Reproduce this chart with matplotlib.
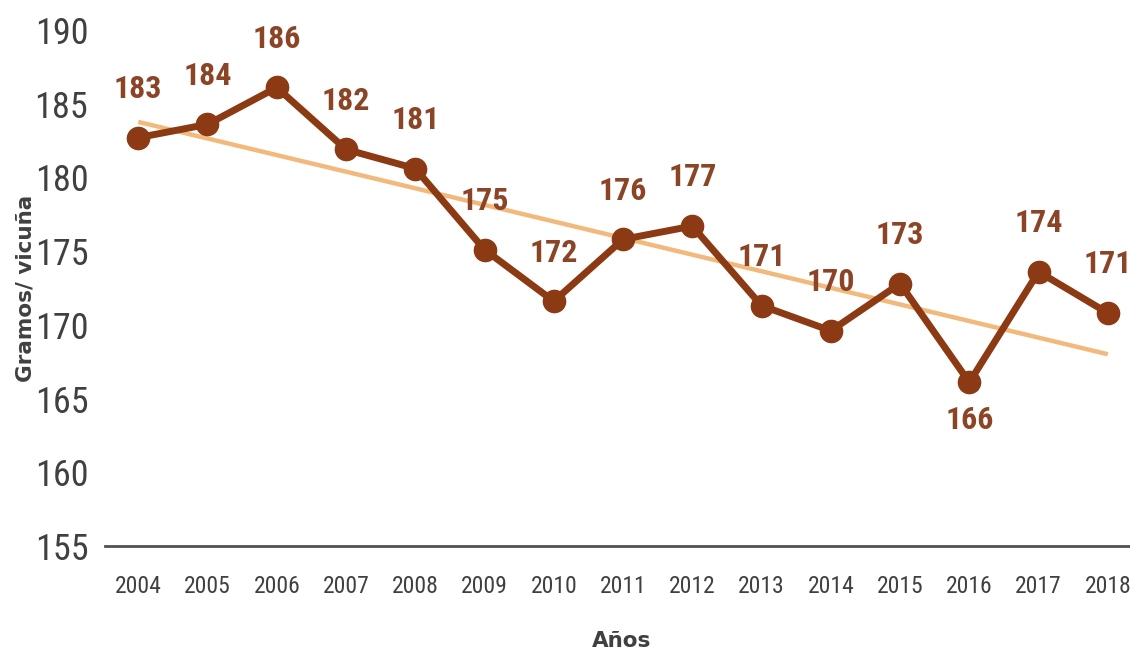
import numpy as np
import matplotlib
matplotlib.use("Agg")
import matplotlib.pyplot as plt
from matplotlib import font_manager

# Fibre yield per animal, 2004-2018
years = [2004, 2005, 2006, 2007, 2008, 2009, 2010, 2011, 2012, 2013, 2014, 2015, 2016, 2017, 2018]
gramos = [182.7, 183.6, 186.1, 181.9, 180.6, 175.1, 171.6, 175.8, 176.7, 171.3, 169.6, 172.8, 166.1, 173.6, 170.8]
y_ticks = [155, 160, 165, 170, 175, 180, 185, 190]

line_color = "#8c3a14"
trend_color = "#f2b97c"
label_color = "#8b4526"
text_color = "#404040"

narrow = ["Roboto Condensed", "DejaVu Sans"]

# bold Montserrat face for the axis titles, if a static bold file exists
bold_files = [f.fname for f in font_manager.fontManager.ttflist
              if f.name == "Montserrat" and f.style == "normal"
              and isinstance(f.weight, int) and 600 <= f.weight <= 700]
if bold_files:
    title_font = font_manager.FontProperties(fname=sorted(bold_files)[0])
else:
    title_font = font_manager.FontProperties(family="DejaVu Sans", weight="bold")

fig = plt.figure(figsize=(11.3, 6.54), dpi=100)
ax = fig.add_axes([105 / 1130, 108 / 654, 1 - 105 / 1130, 516 / 654])

# linear trend under the series
slope, intercept = np.polyfit(years, gramos, 1)
trend = np.polyval([slope, intercept], years)
ax.plot(years, trend, color=trend_color, lw=3.2, solid_capstyle="butt", zorder=2)

ax.plot(years, gramos, color=line_color, lw=5, marker="o", ms=16,
        solid_joinstyle="round", zorder=3)

for x, y in zip(years, gramos):
    below = x == 2016
    ax.annotate(f"{y:.0f}", (x, y), xytext=(0, -27 if below else 35),
                textcoords="offset points", ha="center", va="center",
                fontsize=23, fontweight="bold", color=label_color,
                family=narrow, zorder=4)

ax.set_xlim(2003.52, 2018.32)
ax.set_ylim(155, 190)
ax.set_xticks(years)
ax.set_xticklabels([str(y) for y in years])
ax.set_yticks(y_ticks)

for s in ["top", "right", "left"]:
    ax.spines[s].set_visible(False)
ax.spines["bottom"].set_color("#505050")
ax.spines["bottom"].set_linewidth(2)

ax.tick_params(axis="y", length=0, pad=12, labelsize=26, labelcolor=text_color)
ax.tick_params(axis="x", length=0, pad=21, labelsize=17, labelcolor=text_color)
for lbl in ax.get_xticklabels() + ax.get_yticklabels():
    lbl.set_family(narrow)

title_font.set_size(15.5)
ax.set_ylabel("Gramos/ vicuña", fontproperties=title_font, color=text_color, va="center")
ax.yaxis.set_label_coords(-0.078, 0.5)
ax.set_xlabel("Años", fontproperties=title_font, color=text_color, va="center")
ax.xaxis.set_label_coords(0.504, -0.184)

fig.savefig("out.png", dpi=100)
